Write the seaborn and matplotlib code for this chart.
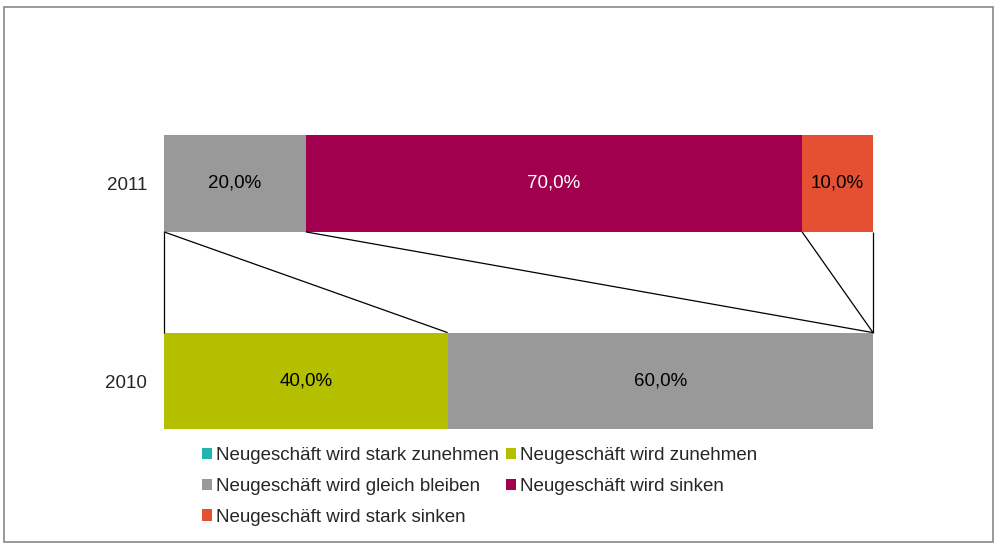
import matplotlib
matplotlib.use("Agg")
import matplotlib.pyplot as plt
import matplotlib.patches as mpatches
import numpy as np
import pandas as pd
import seaborn as sns

sns.set_theme(style="white")
plt.rcParams['font.family'] = ['Liberation Sans', 'DejaVu Sans']

years = ["2011", "2010"]
series_names = [
    "Neugeschäft wird stark zunehmen",
    "Neugeschäft wird zunehmen",
    "Neugeschäft wird gleich bleiben",
    "Neugeschäft wird sinken",
    "Neugeschäft wird stark sinken",
]
stark_zunehmen = [0.0, 0.0]
zunehmen = [0.0, 40.0]
gleich_bleiben = [20.0, 60.0]
sinken = [70.0, 0.0]
stark_sinken = [10.0, 0.0]
colors = ["#1FB5AD", "#B4BF00", "#999999", "#A1004F", "#E55032"]
label_colors = ["black", "black", "black", "white", "black"]

values = np.array([stark_zunehmen, zunehmen, gleich_bleiben, sinken, stark_sinken]) / 100.0
cum = np.cumsum(values, axis=0)

FS = 13.5
W, H = 998, 547
fig = plt.figure(figsize=(W / 100, H / 100), dpi=100)
fig.patch.set_facecolor("white")

left_px, right_px = 164, 873
c_top, c_bot = 183.5, 381.0
step = c_bot - c_top
top_px = c_top - 0.5 * step
bot_px = c_bot + 0.5 * step
ax = fig.add_axes([left_px / W, 1 - bot_px / H, (right_px - left_px) / W, (bot_px - top_px) / H])

# stacked bars: draw cumulative layers from last to first
for i in range(len(series_names) - 1, -1, -1):
    df = pd.DataFrame({"year": years, "value": cum[i]})
    sns.barplot(data=df, x="value", y="year", order=years, color=colors[i],
                orient="h", width=0.49, ax=ax, saturation=1, linewidth=0)

ax.set_xlim(0, 1)
ax.set_ylim(1.5, -0.5)
for s in ax.spines.values():
    s.set_visible(False)
ax.set_xlabel("")
ax.set_ylabel("")
ax.set_xticks([])
ax.tick_params(axis="y", length=0, pad=12, labelsize=FS)

# data labels
for i in range(len(series_names)):
    for j in range(len(years)):
        v = values[i, j]
        if v > 0:
            xc = cum[i, j] - v / 2
            ax.text(xc, j, f"{v*100:.1f}%".replace(".", ","), ha="center", va="center",
                    fontsize=FS, color=label_colors[i])

# series lines between the bars
hw = 0.49 / 2
for i in range(len(series_names)):
    ax.plot([cum[i, 0], cum[i, 1]], [0 + hw, 1 - hw], color="black", lw=0.9,
            solid_capstyle="butt", clip_on=False)

# legend
handles = [mpatches.Patch(facecolor=colors[i], edgecolor="none", label=series_names[i])
           for i in range(len(series_names))]
order = [0, 2, 4, 1, 3]
fig.legend([handles[k] for k in order], [series_names[k] for k in order],
           loc="upper left", bbox_to_anchor=(202 / W, 1 - 447 / H), ncol=2,
           frameon=False, fontsize=FS, borderpad=0, borderaxespad=0,
           handlelength=0.55, handleheight=0.55, handletextpad=0.2,
           columnspacing=0.35, labelspacing=0.74)

# outer frame
fig.patches.append(mpatches.Rectangle((4 / W, 1 - 542 / H), (993 - 4) / W, (542 - 7) / H,
                                      transform=fig.transFigure, fill=False,
                                      edgecolor="#888888", lw=1.2))

fig.savefig("out.png", dpi=100)
